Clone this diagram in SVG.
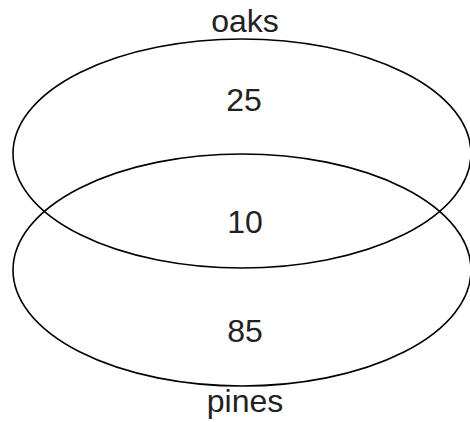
<svg xmlns="http://www.w3.org/2000/svg" width="470" height="422" viewBox="0 0 470 422">
<style>
.set{fill:none;stroke:#000;stroke-width:1.6}
.t{font-family:"Liberation Sans",Arial,sans-serif;font-size:32px;fill:#222;text-anchor:middle}
</style>
<rect width="470" height="422" fill="#fff"/>
<g id="oaks">
<ellipse class="set" cx="242" cy="153.5" rx="229" ry="114.5"/>
<text class="t" x="245" y="32">oaks</text>
</g>
<g id="pines">
<ellipse class="set" cx="242" cy="270" rx="229" ry="116"/>
<text class="t" x="245" y="412">pines</text>
</g>
<g id="regions">
<text class="t" x="244" y="111">25</text>
<text class="t" x="245" y="233">10</text>
<text class="t" x="245" y="342">85</text>
</g>
<g id="connectors"/>
</svg>
